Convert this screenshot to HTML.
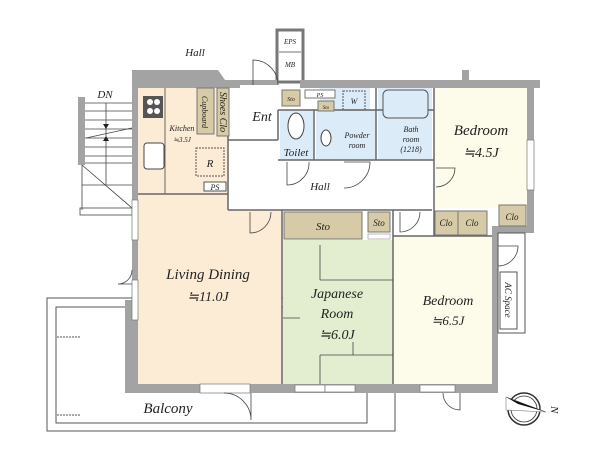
<!DOCTYPE html>
<html><head><meta charset="utf-8"><style>
html,body{margin:0;padding:0;background:#fff;}
svg{display:block;}
text{font-family:"Liberation Serif",serif;font-style:italic;fill:#222;}
</style></head><body>
<svg width="600" height="450" viewBox="0 0 600 450" xmlns="http://www.w3.org/2000/svg">
<!-- balcony -->
<rect x="47" y="298" width="348" height="133" fill="none" stroke="#555" stroke-width="1"/>
<rect x="56" y="307" width="311" height="116" fill="none" stroke="#555" stroke-width="1"/>
<line x1="57" y1="337" x2="80" y2="337" stroke="#555" stroke-dasharray="2,1"/>
<line x1="57" y1="415" x2="80" y2="415" stroke="#555" stroke-dasharray="2,1"/>
<text x="168" y="413" font-size="15" text-anchor="middle">Balcony</text>

<!-- stairs -->
<rect x="78" y="97" width="7" height="68" fill="#a3a3a3"/>
<g stroke="#444" stroke-width="0.8" fill="none">
<line x1="85" y1="103" x2="132" y2="103"/><line x1="85" y1="111" x2="132" y2="111"/>
<line x1="85" y1="120" x2="132" y2="120"/><line x1="85" y1="129" x2="132" y2="129"/>
<line x1="85" y1="138" x2="132" y2="138"/><line x1="85" y1="147" x2="132" y2="147"/>
<line x1="85" y1="156" x2="132" y2="156"/><line x1="85" y1="163" x2="132" y2="163"/>
<line x1="82" y1="165" x2="82" y2="210"/>
<line x1="82" y1="185" x2="132" y2="185"/>
<line x1="82" y1="165" x2="132" y2="208"/>
<rect x="80" y="208" width="52" height="7"/>
<line x1="106" y1="103" x2="106" y2="185"/>
<line x1="86" y1="138" x2="132" y2="128"/>
</g>
<polygon points="103,124 109,124 106,129" fill="#222"/>
<polygon points="103,141 109,141 106,136" fill="#222"/>
<text x="105" y="98" font-size="11" text-anchor="middle">DN</text>
<text x="195" y="56" font-size="11" text-anchor="middle">Hall</text>

<!-- EPS MB -->
<rect x="277" y="30" width="26" height="52" fill="#fff" stroke="#777" stroke-width="3"/>
<line x1="279" y1="52" x2="301" y2="52" stroke="#777"/>
<text x="290" y="44" font-size="7" text-anchor="middle">EPS</text>
<text x="290" y="67" font-size="7" text-anchor="middle">MB</text>

<!-- room fills -->
<rect x="138" y="88" width="90" height="106" fill="#fcebd5"/>
<polygon points="138,194 228,194 228,210 282,210 282,384 138,384" fill="#fcebd5"/>
<rect x="283" y="240" width="110" height="144" fill="#e2eecf"/>
<rect x="393" y="236" width="100" height="148" fill="#fdfbe9"/>
<rect x="435" y="88" width="92" height="120" fill="#fdfbe9"/>
<rect x="280" y="110" width="33" height="50" fill="#dcebf8"/>
<rect x="316" y="110" width="60" height="50" fill="#dcebf8"/>
<rect x="378" y="88" width="54" height="72" fill="#dcebf8"/>
<rect x="320" y="88" width="50" height="24" fill="#dcebf8"/>

<!-- walls -->
<g fill="#a3a3a3">
<polygon points="132,70 218,70 225,80 240,80 240,88 138,88 138,384 132,384"/>
<rect x="240" y="80" width="38" height="5"/>
<rect x="300" y="80" width="240" height="8"/>
<rect x="462" y="70" width="7" height="12"/>
<rect x="527" y="80" width="7" height="153"/>
<rect x="492" y="226" width="42" height="7"/>
<rect x="492" y="226" width="6" height="167"/>
<rect x="125" y="384" width="373" height="9"/>
<rect x="125" y="300" width="7" height="90"/>
</g>
<g fill="#fff" stroke="#777" stroke-width="0.7">
<rect x="132" y="200" width="6" height="40"/>
<rect x="132" y="280" width="6" height="40"/>
<rect x="200" y="384" width="50" height="9"/>
<rect x="295" y="385" width="30" height="7"/>
<rect x="325" y="385" width="30" height="7"/>
<rect x="420" y="385" width="35" height="7"/>
<rect x="527" y="140" width="7" height="50"/>
</g>
<!-- interior lines -->
<g stroke="#666" stroke-width="1.5" fill="none">
<line x1="228" y1="88" x2="228" y2="210"/>
<line x1="228" y1="210" x2="432" y2="210"/>
<line x1="282" y1="210" x2="282" y2="384"/>
<line x1="393" y1="210" x2="393" y2="384"/>
<line x1="278" y1="140" x2="278" y2="110"/>
<line x1="278" y1="110" x2="434" y2="110"/>
<line x1="278" y1="160" x2="434" y2="160"/>
<line x1="314" y1="110" x2="314" y2="160"/>
<line x1="376" y1="88" x2="376" y2="160"/>
<line x1="434" y1="88" x2="434" y2="236"/>
<line x1="228" y1="140" x2="278" y2="140"/>
<line x1="393" y1="236" x2="492" y2="236"/>
<line x1="138" y1="194" x2="228" y2="194"/>
</g>
<!-- tatami lines -->
<g stroke="#444" stroke-width="0.8">
<line x1="320" y1="245" x2="320" y2="280"/><line x1="320" y1="280" x2="393" y2="280"/>
<line x1="283" y1="318" x2="300" y2="318"/>
<line x1="320" y1="355" x2="393" y2="355"/><line x1="320" y1="355" x2="320" y2="384"/>
<line x1="353" y1="342" x2="353" y2="355"/>
</g>

<!-- kitchen fixtures -->
<rect x="143" y="96" width="20" height="22" fill="#555"/>
<circle cx="150" cy="102" r="3" fill="#fff"/><circle cx="157" cy="102" r="3" fill="#fff"/>
<circle cx="150" cy="111" r="3" fill="#fff"/><circle cx="157" cy="111" r="3" fill="#fff"/>
<rect x="144" y="143" width="20" height="26" rx="3" fill="#fff" stroke="#444"/>
<line x1="165" y1="88" x2="165" y2="194" stroke="#666"/>
<rect x="197" y="88" width="17" height="46" fill="#d6cba6" stroke="#777"/>
<text transform="translate(202,112) rotate(90)" font-size="8" text-anchor="middle">Cupboard</text>
<rect x="217" y="88" width="12" height="48" fill="#d6cba6" stroke="#777"/>
<text transform="translate(220,112) rotate(90)" font-size="10" text-anchor="middle">Shoes Clo</text>
<rect x="196" y="148" width="28" height="28" fill="none" stroke="#555" stroke-dasharray="2,1"/>
<text x="210" y="167" font-size="11" text-anchor="middle">R</text>
<rect x="204" y="182" width="22" height="9" fill="#fff" stroke="#555"/>
<text x="215" y="190" font-size="8" text-anchor="middle">PS</text>
<text x="182" y="131" font-size="8" text-anchor="middle">Kitchen</text>
<text x="182" y="142" font-size="7" text-anchor="middle">≒3.5J</text>
<text x="262" y="121" font-size="14" text-anchor="middle">Ent</text>

<!-- wet area -->
<rect x="282" y="90" width="18" height="16" fill="#d6cba6" stroke="#777"/>
<text x="291" y="101" font-size="6" text-anchor="middle">Sto</text>
<rect x="305" y="90" width="30" height="8" fill="#fff" stroke="#777"/>
<text x="320" y="97" font-size="6" text-anchor="middle">PS</text>
<rect x="318" y="101" width="16" height="10" fill="#d6cba6" stroke="#777"/>
<text x="326" y="109" font-size="5" text-anchor="middle">Sto</text>
<rect x="343" y="91" width="22" height="19" fill="none" stroke="#555" stroke-dasharray="2,1"/>
<text x="354" y="104" font-size="8" text-anchor="middle">W</text>
<ellipse cx="296" cy="126" rx="8" ry="13" fill="#fff" stroke="#444"/>
<ellipse cx="326" cy="138" rx="5" ry="8" fill="#fff" stroke="#444"/>
<rect x="383" y="90" width="45" height="28" rx="5" fill="#dcebf8" stroke="#555"/>
<text x="296" y="156" font-size="11" text-anchor="middle">Toilet</text>
<text x="357" y="138" font-size="8" text-anchor="middle">Powder</text>
<text x="357" y="148" font-size="8" text-anchor="middle">room</text>
<text x="411" y="132" font-size="8" text-anchor="middle">Bath</text>
<text x="411" y="142" font-size="8" text-anchor="middle">room</text>
<text x="411" y="152" font-size="8" text-anchor="middle">(1218)</text>
<text x="320" y="190" font-size="11" text-anchor="middle">Hall</text>

<!-- doors -->
<g stroke="#444" stroke-width="0.8" fill="none">
<path d="M253,85 L253,60 A25,25 0 0 1 278,85"/>
<path d="M287,162 L287,185 A22,22 0 0 0 309,162"/>
<path d="M344,162 L370,162 A26,26 0 0 1 344,188"/>
<path d="M436,168 L455,168 A19,19 0 0 1 436,187"/>
<path d="M250,212 L250,233 A21,21 0 0 0 271,212"/>
<path d="M400,212 L400,232 A20,20 0 0 0 420,212"/>
<path d="M251,393 L251,420 A27,27 0 0 0 224,393"/>
<path d="M460,393 L460,410 A17,17 0 0 1 443,393"/>
<path d="M132,270 A14,14 0 0 1 118,284 L132,284"/>
<path d="M498,246 L518,246 A20,20 0 0 1 498,266"/>
</g>

<!-- storage -->
<rect x="284" y="212" width="78" height="27" fill="#d6cba6" stroke="#777"/>
<text x="323" y="230" font-size="11" text-anchor="middle">Sto</text>
<rect x="368" y="212" width="22" height="20" fill="#d6cba6" stroke="#777"/>
<text x="379" y="226" font-size="9" text-anchor="middle">Sto</text>
<rect x="368" y="234" width="22" height="5" fill="#fff" stroke="#777" stroke-width="0.5"/>
<rect x="435" y="211" width="23" height="24" fill="#d6cba6" stroke="#777"/>
<rect x="458" y="211" width="29" height="24" fill="#d6cba6" stroke="#777"/>
<rect x="499" y="205" width="27" height="21" fill="#d6cba6" stroke="#777"/>
<text x="446" y="226" font-size="9" text-anchor="middle">Clo</text>
<text x="472" y="226" font-size="9" text-anchor="middle">Clo</text>
<text x="512" y="220" font-size="9" text-anchor="middle">Clo</text>

<!-- AC space -->
<rect x="498" y="233" width="27" height="100" fill="none" stroke="#555"/>
<rect x="500" y="272" width="17" height="57" fill="#fff" stroke="#555"/>
<text transform="translate(505,300) rotate(90)" font-size="9" text-anchor="middle">AC Space</text>

<!-- room labels -->
<text x="208" y="279" font-size="15" text-anchor="middle">Living Dining</text>
<text x="208" y="301" font-size="14" text-anchor="middle">≒11.0J</text>
<text x="337" y="298" font-size="14" text-anchor="middle">Japanese</text>
<text x="337" y="318" font-size="14" text-anchor="middle">Room</text>
<text x="337" y="339" font-size="14" text-anchor="middle">≒6.0J</text>
<text x="448" y="305" font-size="14" text-anchor="middle">Bedroom</text>
<text x="448" y="325" font-size="13" text-anchor="middle">≒6.5J</text>
<text x="481" y="135" font-size="15" text-anchor="middle">Bedroom</text>
<text x="481" y="157" font-size="14" text-anchor="middle">≒4.5J</text>

<!-- compass -->
<circle cx="524" cy="409" r="16" fill="#fff" stroke="#333" stroke-width="1.5"/>
<circle cx="524" cy="409" r="13" fill="none" stroke="#333" stroke-width="0.8"/>
<polygon points="506,397 546,412 518,404" fill="#111"/>
<polygon points="506,397 546,412 506,410" fill="#fff" stroke="#777" stroke-width="0.6"/>
<polygon points="506,397 546,412 518,404" fill="#111"/>
<text transform="translate(551,406) rotate(90)" font-size="11">N</text>
</svg>
</body></html>
